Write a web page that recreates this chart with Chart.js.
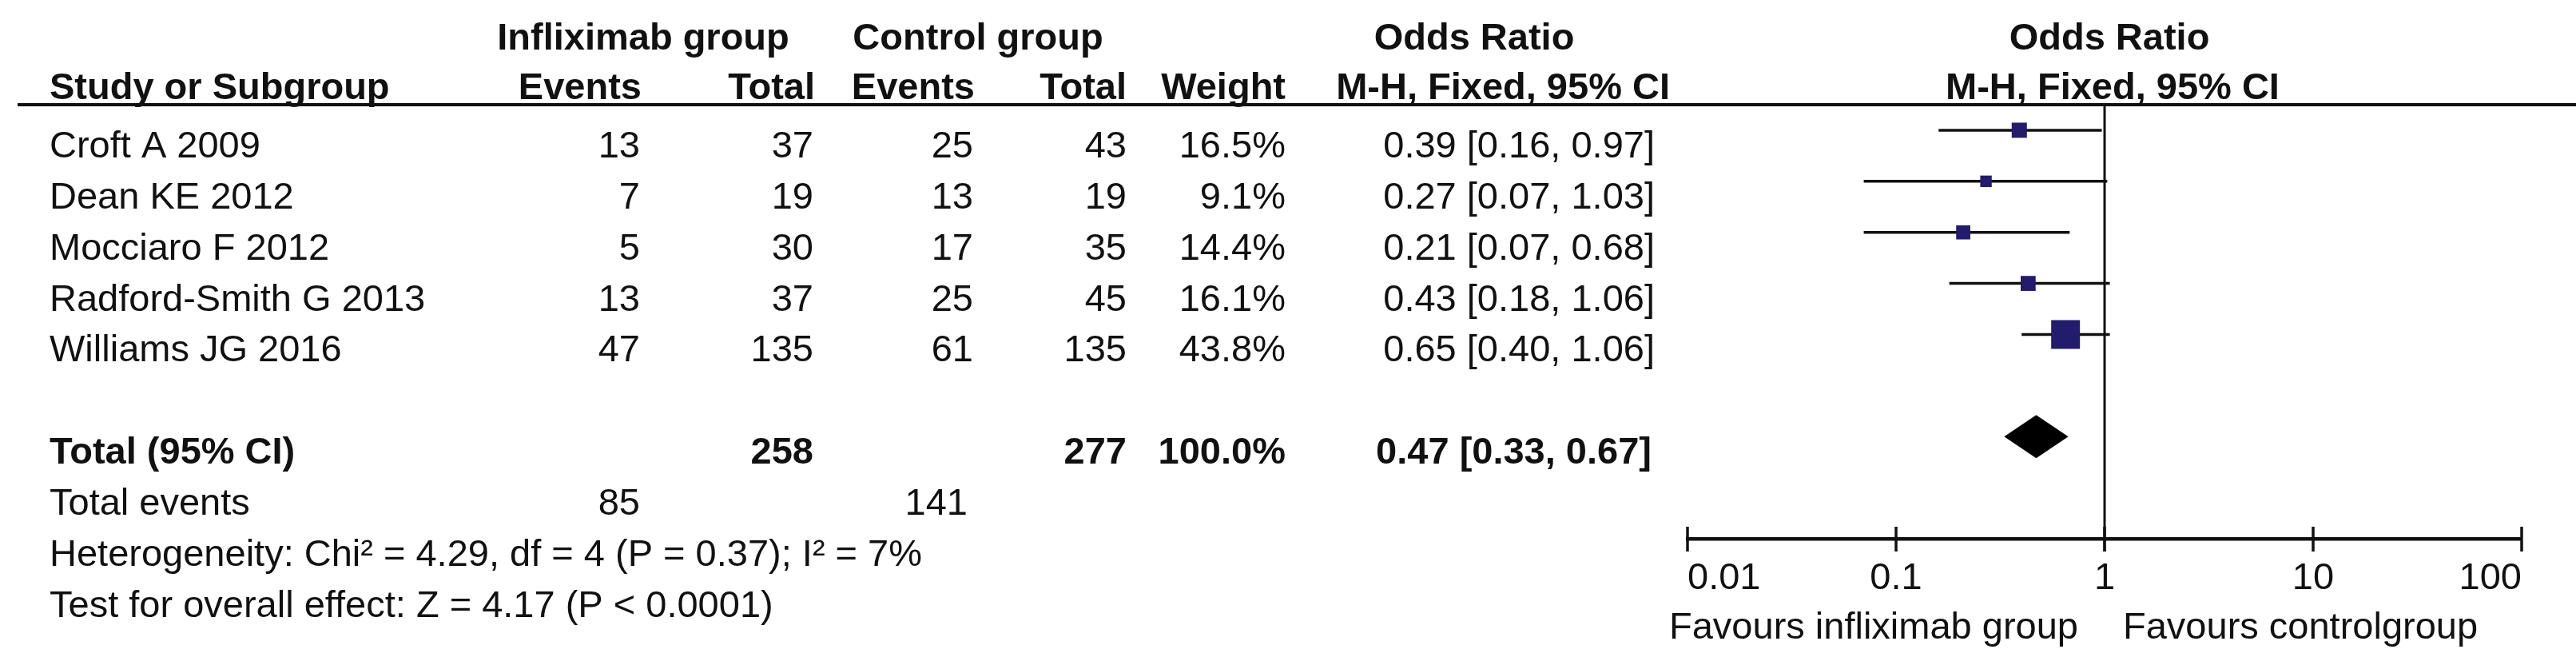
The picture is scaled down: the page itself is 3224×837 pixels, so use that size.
<!DOCTYPE html>
<html>
<head>
<meta charset="utf-8">
<script src="https://cdn.jsdelivr.net/npm/chart.js@4.4.1/dist/chart.umd.min.js"></script>
<style>
  html, body { margin: 0; padding: 0; background: #fff; }
  #wrap { width: 3224px; height: 837px; position: relative; }
</style>
</head>
<body>
<div id="wrap"><canvas id="forest"></canvas></div>
<script>
// === DATA ===
const studies = ["Croft A 2009", "Dean KE 2012", "Mocciaro F 2012", "Radford-Smith G 2013", "Williams JG 2016"];
const infEvents = [13, 7, 5, 13, 47];
const infTotal = [37, 19, 30, 37, 135];
const ctlEvents = [25, 13, 17, 25, 61];
const ctlTotal = [43, 19, 35, 45, 135];
const weights = [16.5, 9.1, 14.4, 16.1, 43.8];
const orEst = [0.39, 0.27, 0.21, 0.43, 0.65];
const orLow = [0.16, 0.07, 0.07, 0.18, 0.40];
const orHigh = [0.97, 1.03, 0.68, 1.06, 1.06];

const pooledEst = 0.47;
const pooledLow = 0.33;
const pooledHigh = 0.67;
const sumInfTotal = 258;
const sumCtlTotal = 277;
const sumWeight = 100.0;
const sumInfEvents = 85;
const sumCtlEvents = 141;
const heterogeneityText = "Heterogeneity: Chi\u00b2 = 4.29, df = 4 (P = 0.37); I\u00b2 = 7%";
const overallText = "Test for overall effect: Z = 4.17 (P < 0.0001)";

const tickValues = [0.01, 0.1, 1, 10, 100];
const tickLabels = ["0.01", "0.1", "1", "10", "100"];

// row index of each line in the plot
const studyRows = studies.map((s, i) => i);
const totalRow = 6;
const eventsRow = 7;
const hetRow = 8;
const testRow = 9;

// === LAYOUT / STYLE ===
const FONT = '"Liberation Sans", Arial, Helvetica, sans-serif';
const FS = 47;
const INK = "#111";
const SQUARE = "#231b6b";
const colRight = { ev1: 801, tot1: 1018, ev2: 1218, tot2: 1410, weight: 1609, ci: 2071 };
const nameLeft = 62;
const baseOff = 34; // text baseline below the row's line

function fmtCI(e, l, h) {
  return e.toFixed(2) + " [" + l.toFixed(2) + ", " + h.toFixed(2) + "]";
}
function squareRadius(w) {
  const side = 8.7 + 0.623 * w;
  return side / (2 * Math.SQRT1_2);
}

// === DATASETS ===
const squareSet = {
  data: orEst.map((v, i) => ({ x: v, y: studyRows[i] })),
  pointStyle: "rect",
  pointRadius: weights.map(squareRadius),
  backgroundColor: SQUARE,
  borderWidth: 0,
  order: 1
};
const ciSets = studies.map((s, i) => ({
  data: [{ x: orLow[i], y: studyRows[i] }, { x: orHigh[i], y: studyRows[i] }],
  showLine: true,
  pointRadius: 0,
  borderColor: INK,
  borderWidth: 3.5,
  order: 2
}));

// === TABLE + DECORATION PLUGIN ===
const forestDecor = {
  id: "forestDecor",
  afterDraw(chart) {
    const ctx = chart.ctx;
    const xs = chart.scales.x;
    const ys = chart.scales.y;
    const area = chart.chartArea;
    const one = xs.getPixelForValue(1);

    function txt(s, x, y, align, bold) {
      ctx.font = (bold ? "bold " : "") + FS + "px " + FONT;
      ctx.textAlign = align;
      ctx.textBaseline = "alphabetic";
      ctx.fillStyle = INK;
      ctx.fillText(s, x, y);
    }
    function line(x1, y1, x2, y2, w) {
      ctx.beginPath();
      ctx.moveTo(x1, y1);
      ctx.lineTo(x2, y2);
      ctx.lineWidth = w;
      ctx.strokeStyle = INK;
      ctx.stroke();
    }

    ctx.save();
    // header rule
    line(22, area.top, 3224, area.top, 4);
    // line of no effect
    line(one, area.top, one, area.bottom + 16, 3);
    // tick marks across the axis
    xs.ticks.forEach(t => {
      const px = xs.getPixelForValue(t.value);
      line(px, area.bottom - 15, px, area.bottom + 16, 3.5);
    });

    // pooled diamond
    const yc = ys.getPixelForValue(totalRow);
    ctx.beginPath();
    ctx.moveTo(xs.getPixelForValue(pooledLow), yc);
    ctx.lineTo(xs.getPixelForValue(pooledEst), yc - 27);
    ctx.lineTo(xs.getPixelForValue(pooledHigh), yc);
    ctx.lineTo(xs.getPixelForValue(pooledEst), yc + 27);
    ctx.closePath();
    ctx.fillStyle = "#000";
    ctx.fill();

    // headers
    txt("Infliximab group", 805, 62, "center", true);
    txt("Control group", 1224, 62, "center", true);
    txt("Odds Ratio", 1845, 62, "center", true);
    txt("Odds Ratio", one + 6, 62, "center", true);
    txt("Study or Subgroup", nameLeft, 124, "left", true);
    txt("Events", colRight.ev1 + 2, 124, "right", true);
    txt("Total", colRight.tot1 + 2, 124, "right", true);
    txt("Events", colRight.ev2 + 2, 124, "right", true);
    txt("Total", colRight.tot2, 124, "right", true);
    txt("Weight", colRight.weight, 124, "right", true);
    txt("M-H, Fixed, 95% CI", 2090, 124, "right", true);
    txt("M-H, Fixed, 95% CI", one + 10, 124, "center", true);

    // study rows
    studies.forEach((s, i) => {
      const by = ys.getPixelForValue(studyRows[i]) + baseOff;
      txt(s, nameLeft, by, "left", false);
      txt(String(infEvents[i]), colRight.ev1, by, "right", false);
      txt(String(infTotal[i]), colRight.tot1, by, "right", false);
      txt(String(ctlEvents[i]), colRight.ev2, by, "right", false);
      txt(String(ctlTotal[i]), colRight.tot2, by, "right", false);
      txt(weights[i].toFixed(1) + "%", colRight.weight, by, "right", false);
      txt(fmtCI(orEst[i], orLow[i], orHigh[i]), colRight.ci, by, "right", false);
    });

    // total row
    let by = ys.getPixelForValue(totalRow) + baseOff;
    txt("Total (95% CI)", nameLeft, by, "left", true);
    txt(String(sumInfTotal), colRight.tot1, by, "right", true);
    txt(String(sumCtlTotal), colRight.tot2, by, "right", true);
    txt(sumWeight.toFixed(1) + "%", colRight.weight, by, "right", true);
    txt(fmtCI(pooledEst, pooledLow, pooledHigh), colRight.ci - 4, by, "right", true);

    by = ys.getPixelForValue(eventsRow) + baseOff;
    txt("Total events", nameLeft, by, "left", false);
    txt(String(sumInfEvents), colRight.ev1, by, "right", false);
    txt(String(sumCtlEvents), colRight.ev2 - 7, by, "right", false);

    txt(heterogeneityText, nameLeft, ys.getPixelForValue(hetRow) + baseOff, "left", false);
    txt(overallText, nameLeft, ys.getPixelForValue(testRow) + baseOff, "left", false);

    // favours labels
    txt("Favours infliximab group", one - 33, 799, "right", false);
    txt("Favours controlgroup", one + 23, 799, "left", false);
    ctx.restore();
  }
};

// === CHART ===
new Chart(document.getElementById("forest"), {
  type: "scatter",
  data: { datasets: [squareSet].concat(ciSets) },
  options: {
    responsive: true,
    maintainAspectRatio: false,
    animation: false,
    events: [],
    layout: { padding: { left: 2112, right: 68, top: 131, bottom: 0 } },
    plugins: { legend: { display: false }, tooltip: { enabled: false } },
    scales: {
      x: {
        type: "logarithmic",
        position: "bottom",
        min: 0.01,
        max: 100,
        afterBuildTicks: scale => { scale.ticks = tickValues.map(v => ({ value: v })); },
        afterFit: scale => { scale.height = 163; },
        grid: { display: false, drawTicks: false },
        border: { display: true, color: INK, width: 4.5 },
        ticks: {
          align: "inner",
          autoSkip: false,
          maxRotation: 0,
          padding: 22,
          color: INK,
          font: { family: FONT, size: FS, lineHeight: 1.2 },
          callback: (v, i) => tickLabels[i]
        }
      },
      y: {
        type: "linear",
        display: false,
        reverse: true,
        min: -0.5,
        max: 8
      }
    }
  },
  plugins: [forestDecor]
});
</script>
</body>
</html>
